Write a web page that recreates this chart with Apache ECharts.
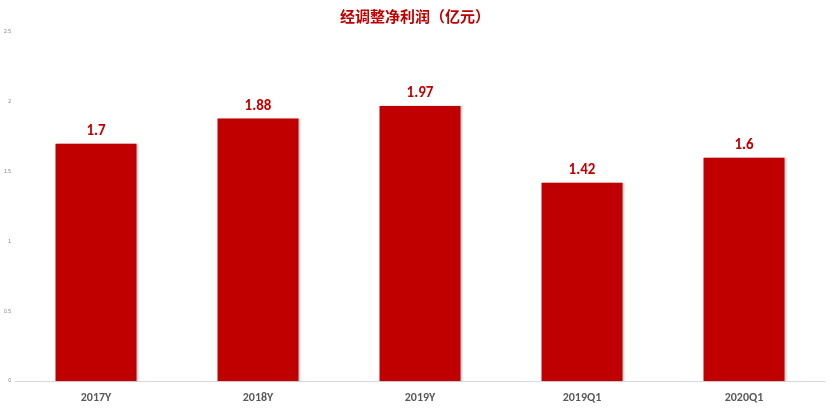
<!DOCTYPE html>
<html>
<head>
<meta charset="utf-8">
<script src="https://cdn.jsdelivr.net/npm/echarts@6/dist/echarts.min.js"></script>
<style>html,body{margin:0;padding:0;background:#fff;}#c{width:830px;height:408px;}</style>
</head>
<body>
<div id="c"></div>
<script>
const categories = ['2017Y', '2018Y', '2019Y', '2019Q1', '2020Q1'];
const values = [1.7, 1.88, 1.97, 1.42, 1.6];
const titleText = '经调整净利润（亿元）';

const chart = echarts.init(document.getElementById('c'));
chart.setOption({
  animation: false,
  title: {
    text: titleText,
    left: 'center',
    top: 4,
    textStyle: { color: '#C00000', fontSize: 15, fontWeight: 'bold', fontFamily: 'Noto Sans CJK SC' }
  },
  grid: { left: 15, right: 5, top: 32, bottom: 27, containLabel: false },
  xAxis: {
    type: 'category',
    data: categories,
    axisLine: { lineStyle: { color: '#D9D9D9', width: 1 } },
    axisTick: { show: false },
    axisLabel: { color: '#595959', fontSize: 12, fontWeight: 'bold', margin: 11, fontFamily: 'Calibri, Carlito, Lato, sans-serif' }
  },
  yAxis: {
    type: 'value',
    min: 0, max: 2.5, interval: 0.5,
    splitLine: { show: false },
    axisLine: { show: false },
    axisTick: { show: false },
    axisLabel: { color: '#808080', fontSize: 5, margin: 4 }
  },
  series: [{
    type: 'bar',
    data: values,
    barWidth: '50%',
    itemStyle: { color: '#C00000', shadowColor: 'rgba(0,0,0,0.25)', shadowBlur: 2, shadowOffsetX: 1 },
    label: {
      show: true,
      position: 'top',
      distance: 5,
      color: '#C00000',
      fontSize: 15,
      fontWeight: 'bold',
      fontFamily: 'Calibri, Carlito, Lato, sans-serif'
    }
  }]
});
</script>
</body>
</html>
